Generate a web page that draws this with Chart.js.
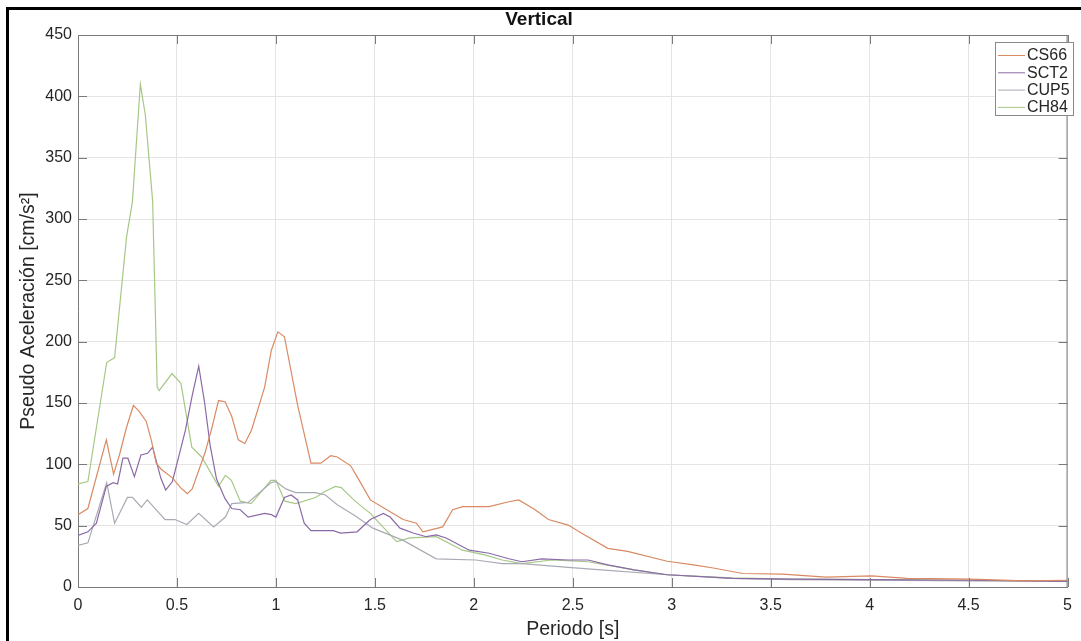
<!DOCTYPE html>
<html><head><meta charset="utf-8">
<script src="https://cdn.jsdelivr.net/npm/chart.js@4.4.1/dist/chart.umd.min.js"></script>
<style>html,body{margin:0;padding:0;background:#fff;overflow:hidden}#wrap{width:1081px;height:641px;position:relative}</style>
</head><body><div id="wrap"><canvas id="c" width="1081" height="641"></canvas></div>
<script>
const chartTitle = 'Vertical';
const xTitle = 'Periodo [s]';
const yTitle = 'Pseudo Aceleración [cm/s²]';
const seriesNames = ['CS66', 'SCT2', 'CUP5', 'CH84'];
const xTickValues = [0, 0.5, 1, 1.5, 2, 2.5, 3, 3.5, 4, 4.5, 5];
const yTickValues = [0, 50, 100, 150, 200, 250, 300, 350, 400, 450];

const cs66Period = [0, 0.05, 0.143, 0.18, 0.21, 0.245, 0.28, 0.31, 0.345, 0.37, 0.395, 0.42, 0.477, 0.518, 0.552, 0.577, 0.643, 0.677, 0.71, 0.743, 0.777, 0.81, 0.843, 0.877, 0.943, 0.977, 1.01, 1.043, 1.11, 1.177, 1.227, 1.277, 1.31, 1.377, 1.41, 1.477, 1.56, 1.643, 1.71, 1.743, 1.843, 1.893, 1.943, 2.077, 2.177, 2.227, 2.31, 2.377, 2.477, 2.543, 2.677, 2.777, 2.977, 3.11, 3.21, 3.36, 3.56, 3.78, 4.01, 4.19, 4.51, 4.78, 5.0];
const cs66Value = [59, 64, 120, 92, 108, 130, 148, 143, 135, 120, 101, 96, 89, 81, 76, 80, 110, 130, 152, 151, 139, 120, 117, 128, 163, 193, 208, 204, 148, 101, 101, 107, 106, 99, 90, 71, 63, 55, 52, 45, 49, 63, 65.5, 65.5, 69.5, 71, 63, 55, 50.5, 44, 31.5, 29, 21, 18, 15.5, 11, 10.5, 8, 9, 7, 6.5, 5, 5.5];

const sct2Period = [0, 0.05, 0.093, 0.143, 0.177, 0.2, 0.227, 0.252, 0.285, 0.318, 0.352, 0.377, 0.418, 0.443, 0.477, 0.518, 0.543, 0.577, 0.61, 0.64, 0.668, 0.7, 0.743, 0.777, 0.82, 0.86, 0.943, 0.977, 1.0, 1.043, 1.077, 1.11, 1.143, 1.177, 1.21, 1.29, 1.327, 1.41, 1.477, 1.543, 1.577, 1.627, 1.693, 1.76, 1.81, 1.86, 1.977, 2.077, 2.177, 2.243, 2.343, 2.477, 2.577, 2.677, 2.81, 2.977, 3.31, 3.6, 4.0, 4.5, 5.0];
const sct2Value = [42, 45, 52, 82, 85, 84, 105, 105, 90, 107.6, 109, 114, 89, 79, 86, 112, 128, 156, 180, 150, 115, 88, 72, 64, 63, 57, 60, 59, 57, 73, 75, 71, 52, 46, 46, 46, 44, 45, 55, 60, 57, 48, 44, 41, 42.4, 40, 30, 27.5, 23, 20.6, 23, 22, 22, 18, 14, 10, 7, 6.5, 6, 5.5, 4.5];

const cup5Period = [0, 0.05, 0.145, 0.185, 0.25, 0.275, 0.32, 0.35, 0.44, 0.49, 0.55, 0.61, 0.685, 0.745, 0.777, 0.86, 0.975, 1.0, 1.05, 1.1, 1.2, 1.25, 1.31, 1.4, 1.49, 1.643, 1.81, 2.01, 2.143, 2.243, 2.477, 2.643, 2.977, 3.3, 3.6, 4.0, 4.5, 5.0];
const cup5Value = [34, 36, 85, 52, 73, 73, 65, 71, 55, 55, 51, 60, 49, 57, 68, 69, 85, 86, 80, 77, 77, 75, 67, 58, 48, 38, 23, 22, 19, 19, 16, 14, 10, 7, 6, 5.5, 5, 4.5];

const ch84Period = [0, 0.05, 0.145, 0.185, 0.245, 0.275, 0.315, 0.34, 0.377, 0.40, 0.41, 0.475, 0.52, 0.575, 0.625, 0.71, 0.745, 0.775, 0.82, 0.875, 0.975, 1.0, 1.045, 1.1, 1.2, 1.25, 1.3, 1.33, 1.4, 1.477, 1.61, 1.677, 1.81, 1.943, 2.06, 2.143, 2.243, 2.393, 2.577, 2.81, 2.977, 3.3, 3.6, 4.0, 4.5, 5.0];
const ch84Value = [84, 86, 183, 187, 285, 314, 410, 385, 315, 163, 160, 174, 166, 114, 106, 82, 91, 87, 70, 68, 87, 87, 70, 68, 73, 78, 82, 81, 70, 60, 37, 40, 41, 30, 26, 22, 19, 22, 20.6, 14, 10, 7.5, 6.5, 6, 5.5, 5];

const seriesColors = ['#d98a62', '#8a6aa6', '#a9abb4', '#a6c886'];

function pts(xs, ys) { return xs.map((x, i) => ({ x: x, y: ys[i] })); }
const allPeriods = [cs66Period, sct2Period, cup5Period, ch84Period];
const allValues = [cs66Value, sct2Value, cup5Value, ch84Value];

const FONT = '"Liberation Sans", Arial, sans-serif';
const TXT = '#262626';
const AX = '#7a7a7a';

const boxPlugin = {
  id: 'boxPlugin',
  afterDraw(chart) {
    const ctx = chart.ctx, a = chart.chartArea;
    const xs = chart.scales.x, ys = chart.scales.y;
    ctx.save();
    ctx.strokeStyle = AX; ctx.lineWidth = 1;
    ctx.beginPath();
    ctx.moveTo(a.left, a.top + 0.5); ctx.lineTo(a.right, a.top + 0.5);
    ctx.moveTo(a.right - 0.5, a.top); ctx.lineTo(a.right - 0.5, a.bottom);
    ctx.stroke();
    ctx.beginPath();
    xTickValues.forEach(v => {
      const px = Math.round(xs.getPixelForValue(v)) + 0.5;
      ctx.moveTo(px, a.bottom); ctx.lineTo(px, a.bottom - 9);
      ctx.moveTo(px, a.top); ctx.lineTo(px, a.top + 9);
    });
    yTickValues.forEach(v => {
      const py = Math.round(ys.getPixelForValue(v)) + 0.5;
      ctx.moveTo(a.left, py); ctx.lineTo(a.left + 9, py);
      ctx.moveTo(a.right, py); ctx.lineTo(a.right - 9, py);
    });
    ctx.stroke();
    // legend
    const lx = 995.5, ly = 42.5, lw = 78, lh = 73;
    ctx.fillStyle = '#fff';
    ctx.fillRect(lx, ly, lw, lh);
    ctx.strokeStyle = '#8a8a8a';
    ctx.strokeRect(lx, ly, lw, lh);
    ctx.font = '16px ' + FONT;
    ctx.textBaseline = 'middle';
    ctx.textAlign = 'left';
    chart.data.datasets.forEach((ds, i) => {
      const yy = 55.5 + i * 17.3;
      ctx.strokeStyle = ds.borderColor; ctx.lineWidth = 1;
      ctx.beginPath(); ctx.moveTo(998, yy); ctx.lineTo(1025, yy); ctx.stroke();
      ctx.fillStyle = TXT;
      ctx.fillText(ds.label, 1027, yy + 0.5);
    });
    // outer black frame
    ctx.strokeStyle = '#000'; ctx.lineWidth = 3;
    ctx.beginPath();
    ctx.moveTo(7.5, 641); ctx.lineTo(7.5, 8.5); ctx.lineTo(1081, 8.5);
    ctx.stroke();
    ctx.restore();
  }
};

new Chart(document.getElementById('c'), {
  type: 'line',
  data: {
    datasets: seriesNames.map((n, i) => ({
      label: n,
      data: pts(allPeriods[i], allValues[i]),
      borderColor: seriesColors[i],
      borderWidth: 1.2,
      pointRadius: 0,
      tension: 0,
      fill: false
    }))
  },
  options: {
    responsive: false,
    animation: false,
    devicePixelRatio: 1,
    layout: { padding: { left: 0, right: 3, top: 0, bottom: 0 } },
    plugins: {
      legend: { display: false },
      tooltip: { enabled: false },
      title: {
        display: true, text: chartTitle, color: '#111',
        font: { family: FONT, size: 19, weight: 'bold' },
        padding: { top: 8, bottom: 4.2 }
      }
    },
    scales: {
      x: {
        type: 'linear', min: 0, max: 5,
        afterBuildTicks: s => { s.ticks = xTickValues.map(v => ({ value: v })); },
        afterFit: s => { s.height = 54; },
        ticks: { color: TXT, font: { family: FONT, size: 16 }, padding: 9, maxRotation: 0, autoSkip: false, callback: v => String(v) },
        grid: { color: '#e4e4e4', drawTicks: false },
        border: { display: true, color: AX },
        title: { display: true, text: xTitle, color: TXT, font: { family: FONT, size: 19.5 }, padding: { top: 0, bottom: 0 } }
      },
      y: {
        type: 'linear', min: 0, max: 450,
        afterBuildTicks: s => { s.ticks = yTickValues.map(v => ({ value: v })); },
        afterFit: s => { s.width = 78; },
        ticks: { color: TXT, font: { family: FONT, size: 16 }, padding: 6, autoSkip: false, callback: v => String(v) },
        grid: { color: '#e4e4e4', drawTicks: false },
        border: { display: true, color: AX },
        title: { display: true, text: yTitle, color: TXT, font: { family: FONT, size: 19.5 }, padding: { top: 17, bottom: 0 } }
      }
    }
  },
  plugins: [boxPlugin]
});
</script>
</body></html>
